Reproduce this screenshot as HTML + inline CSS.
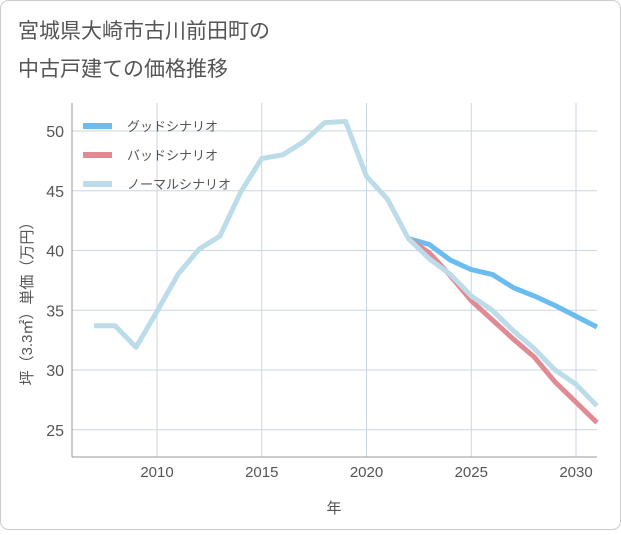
<!DOCTYPE html>
<html><head><meta charset="utf-8"><style>
body{margin:0;background:#fff;font-family:"Liberation Sans","Noto Sans CJK JP",sans-serif;}
</style></head><body>
<svg width="621" height="530" xmlns="http://www.w3.org/2000/svg" style="font-family:'Liberation Sans','Noto Sans CJK JP',sans-serif">
<rect x="0.5" y="0.5" width="620" height="529" rx="8" fill="#fff" stroke="#ccc"/>
<text x="18" y="38" font-size="21" fill="#555">宮城県大崎市古川前田町の</text>
<text x="18" y="76" font-size="21" fill="#555">中古戸建ての価格推移</text>
<g id="grid"></g>
<g id="axes"></g>
<g id="series"></g>
<g id="legend"></g>
<text x="334" y="513" font-size="15" fill="#555" text-anchor="middle">年</text>
<text transform="translate(32,300) rotate(-90)" font-size="15" fill="#555" text-anchor="middle">坪（3.3㎡）単価（万円）</text>
</svg>
<script>
const years=[2007,2008,2009,2010,2011,2012,2013,2014,2015,2016,2017,2018,2019,2020,2021,2022,2023,2024,2025,2026,2027,2028,2029,2030,2031];
const normal=[33.7,33.7,31.9,34.9,38.0,40.1,41.2,44.9,47.7,48.0,49.1,50.7,50.8,46.2,44.3,41.0,39.3,38.0,36.2,35.0,33.3,31.8,30.0,28.8,27.0];
const futureYears=[2022,2023,2024,2025,2026,2027,2028,2029,2030,2031];
const good=[41.0,40.5,39.2,38.4,38.0,36.9,36.2,35.4,34.5,33.6];
const bad=[41.0,39.8,37.9,35.8,34.2,32.6,31.1,29.0,27.3,25.6];
const xTicks=[2010,2015,2020,2025,2030];
const yTicks=[25,30,35,40,45,50];
const L=72,R=597,T=103,B=457;
const xs=y=>157+(y-2010)*20.95;
const ys=v=>131+(50-v)*11.95;
const NS="http://www.w3.org/2000/svg";
function mk(p,t,a){const e=document.createElementNS(NS,t);for(const k in a)e.setAttribute(k,a[k]);p.appendChild(e);return e;}
const grid=document.getElementById('grid'),axes=document.getElementById('axes'),ser=document.getElementById('series'),leg=document.getElementById('legend');
xTicks.forEach(t=>{const l=mk(grid,'line',{x1:xs(t),x2:xs(t),y1:T,y2:B,stroke:'#c8d6e2','stroke-width':1});


const tx=mk(axes,'text',{x:xs(t),y:477,'font-size':15,fill:'#555','text-anchor':'middle'});tx.textContent=t;

});
yTicks.forEach(t=>{const l=mk(grid,'line',{x1:L,x2:R,y1:ys(t),y2:ys(t),stroke:'#c8d6e2','stroke-width':1});


const tx=mk(axes,'text',{x:64,y:ys(t)+6,'font-size':16,fill:'#555','text-anchor':'end'});tx.textContent=t;

});
const ax1=mk(axes,'line',{x1:L,x2:L,y1:T,y2:B,stroke:'#999'});


const ax2=mk(axes,'line',{x1:L,x2:R,y1:B,y2:B,stroke:'#999'});


function line(xv,yv,c,n){const p=mk(ser,'polyline',{points:xv.map((x,i)=>xs(x)+','+ys(yv[i])).join(' '),fill:'none',stroke:c,'stroke-width':5,'stroke-linejoin':'round'});

}
line(futureYears,good,'#6bbcf0','good-scenario-line');
line(futureYears,bad,'#e08a93','bad-scenario-line');
line(years,normal,'#bcdcea','normal-scenario-line');
[['グッドシナリオ','#6bbcf0'],['バッドシナリオ','#e08a93'],['ノーマルシナリオ','#bcdcea']].forEach((d,i)=>{const y=126+i*29;
const s=mk(leg,'line',{x1:83,x2:112,y1:y,y2:y,stroke:d[1],'stroke-width':6});


const t=mk(leg,'text',{x:127,y:y+5,'font-size':13,fill:'#555'});t.textContent=d[0];

});
</script>
</body></html>
